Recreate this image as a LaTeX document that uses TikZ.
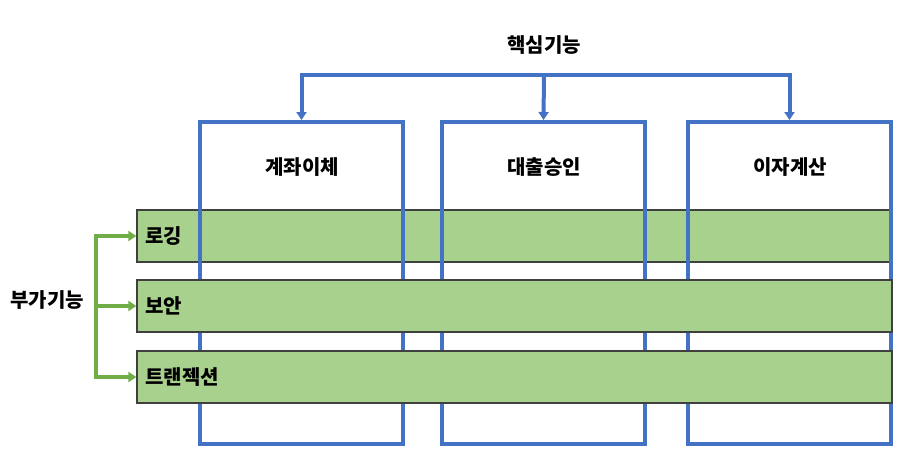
\documentclass[tikz,border=0pt]{standalone}
\usepackage{fontspec}
\setmainfont{Noto Sans CJK KR}
\usetikzlibrary{arrows.meta}
\definecolor{coreblue}{HTML}{4472C4}
\definecolor{addgreen}{HTML}{70AD47}
\definecolor{bandfill}{HTML}{A9D18E}
\begin{document}
\begin{tikzpicture}[x=0.75pt, y=-0.75pt,
    txt/.style = {font=\fontsize{15}{17}\selectfont\bfseries, inner sep=0pt},
    core/.style = {draw=coreblue, line width=3pt, minimum width=152.25pt, minimum height=241.5pt, inner sep=0pt},
    band/.style = {draw=black!75, line width=1pt, fill=bandfill, minimum height=39pt, inner sep=0pt},
    bluearrow/.style = {coreblue, line width=3pt, -{Triangle[length=6pt, width=7.5pt]}},
    greenarrow/.style = {addgreen, line width=3pt, -{Triangle[length=6pt, width=7.5pt]}}]
    \useasboundingbox (0,0) rectangle (921,460);

    % title of the core functions
    \node [txt] (coretitle) at (544,45) {핵심기능};

    % first band lies under the boxes
    \node [band, minimum width=564.75pt] (logging) at (513.5,236) {};

    \node [core] (transfer) at (301.5,283) {};
    \node [core] (loan) at (543.5,283) {};
    \node [core] (interest) at (789.5,283) {};

    \node [txt] (transfertext) at (302,167) {계좌이체};
    \node [txt] (loantext) at (544,167) {대출승인};
    \node [txt] (interesttext) at (790,167) {이자계산};

    % the other two bands cover the boxes
    \node [band, minimum width=566.25pt] (security) at (514.5,306) {};
    \node [band, minimum width=566.25pt] (transaction) at (514.5,377) {};

    \node [txt, anchor=west] (loggingtext) at (145,236) {로깅};
    \node [txt, anchor=west] (securitytext) at (145,306) {보안};
    \node [txt, anchor=west] (transactiontext) at (145,377) {트랜젝션};

    \node [txt] (addtitle) at (47,300) {부가기능};

    % core arrows
    \coordinate (corefork) at (544,75);
    \draw[bluearrow] (corefork) -| (transfer.north);
    \draw[bluearrow] (corefork) -- (loan.north);
    \draw[bluearrow] (corefork) -| (interest.north);

    % side arrows
    \coordinate (addfork) at (96,306);
    \draw[greenarrow] (addfork) |- (logging.west);
    \draw[greenarrow] (addfork) -- (security.west);
    \draw[greenarrow] (addfork) |- (transaction.west);
\end{tikzpicture}
\end{document}
